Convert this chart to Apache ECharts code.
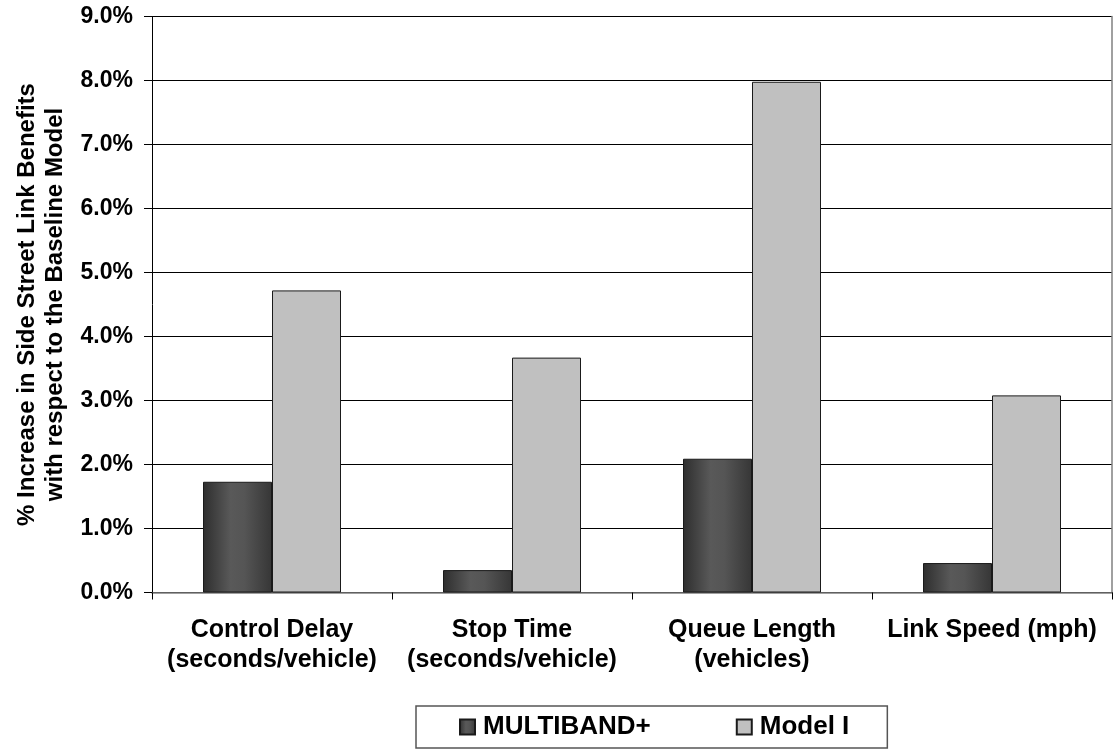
<!DOCTYPE html>
<html>
<head>
<meta charset="utf-8">
<script src="https://cdn.jsdelivr.net/npm/echarts@6/dist/echarts.min.js"></script>
<style>
  html, body { margin: 0; padding: 0; background: #ffffff; }
  #chart { width: 1114px; height: 749px; }
</style>
</head>
<body>
<div id="chart"></div>
<script>
// Categories and measured side-street link benefit increases (percent)
const categories = [
  'Control Delay\n(seconds/vehicle)',
  'Stop Time\n(seconds/vehicle)',
  'Queue Length\n(vehicles)',
  'Link Speed (mph)'
];
const multibandValues = [1.73, 0.35, 2.09, 0.46];
const modelIValues = [4.72, 3.67, 7.98, 3.08];
const seriesNames = ['MULTIBAND+', 'Model I'];
const yAxisTitle = '% Increase in Side Street Link Benefits\nwith respect to the Baseline Model';

const FONT = "'Liberation Sans', Arial, Helvetica, sans-serif";

const chart = echarts.init(document.getElementById('chart'), null, { renderer: 'canvas' });

chart.setOption({
  backgroundColor: '#ffffff',
  animation: false,
  textStyle: { fontFamily: FONT, color: '#000' },
  grid: {
    left: 152, right: 2, top: 16.5, bottom: 156.5,
    containLabel: false,
    outerBoundsMode: 'none'
  },
  legend: {
    data: seriesNames,
    orient: 'horizontal',
    left: 416,
    top: 706,
    padding: [8, 38, 8, 43],
    itemGap: 85,
    itemWidth: 15,
    itemHeight: 15,
    borderColor: '#555',
    borderWidth: 1.5,
    icon: 'rect',
    textStyle: { fontFamily: FONT, fontSize: 26, fontWeight: 'bold', color: '#000', padding: [0, 0, 0, 3] }
  },
  xAxis: [
    {
      type: 'category',
      data: categories,
      position: 'bottom',
      axisLine: { lineStyle: { color: '#000', width: 1 } },
      axisTick: { show: true, length: 7, lineStyle: { color: '#000' } },
      axisLabel: {
        interval: 0,
        margin: 23,
        fontFamily: FONT,
        fontSize: 25,
        fontWeight: 'bold',
        lineHeight: 30,
        color: '#000'
      }
    },
    {
      // frame line along the top of the plot area
      type: 'category',
      data: categories,
      position: 'top',
      axisLine: { lineStyle: { color: '#808080', width: 1.5 } },
      axisTick: { show: false },
      axisLabel: { show: false }
    }
  ],
  yAxis: [
    {
      type: 'value',
      min: 0,
      max: 9,
      interval: 1,
      name: yAxisTitle,
      nameLocation: 'middle',
      nameRotate: 90,
      nameGap: 80,
      nameTextStyle: { fontFamily: FONT, fontSize: 24, fontWeight: 'bold', lineHeight: 28, color: '#000' },
      axisLine: { show: true, lineStyle: { color: '#000', width: 1 } },
      axisTick: { show: true, length: 8, lineStyle: { color: '#000' } },
      axisLabel: {
        margin: 19,
        fontFamily: FONT,
        fontSize: 23,
        fontWeight: 'bold',
        color: '#000',
        formatter: v => v.toFixed(1) + '%'
      },
      splitLine: { show: true, lineStyle: { color: '#000', width: 1 } }
    },
    {
      // frame line along the right edge of the plot area
      type: 'value',
      min: 0,
      max: 9,
      interval: 1,
      position: 'right',
      axisLine: { show: true, lineStyle: { color: '#808080', width: 1.5 } },
      axisTick: { show: false },
      axisLabel: { show: false },
      splitLine: { show: false }
    }
  ],
  series: [
    {
      name: seriesNames[0],
      type: 'bar',
      data: multibandValues,
      barWidth: 69,
      barGap: '0%',
      itemStyle: {
        color: new echarts.graphic.LinearGradient(0, 0, 1, 0, [
          { offset: 0, color: '#2e2e2e' },
          { offset: 0.4, color: '#595959' },
          { offset: 0.6, color: '#555555' },
          { offset: 1, color: '#363636' }
        ]),
        borderColor: '#1a1a1a',
        borderWidth: 1
      }
    },
    {
      name: seriesNames[1],
      type: 'bar',
      data: modelIValues,
      barWidth: 69,
      barGap: '0%',
      itemStyle: {
        color: '#c0c0c0',
        borderColor: '#1a1a1a',
        borderWidth: 1
      }
    }
  ]
});
</script>
</body>
</html>
